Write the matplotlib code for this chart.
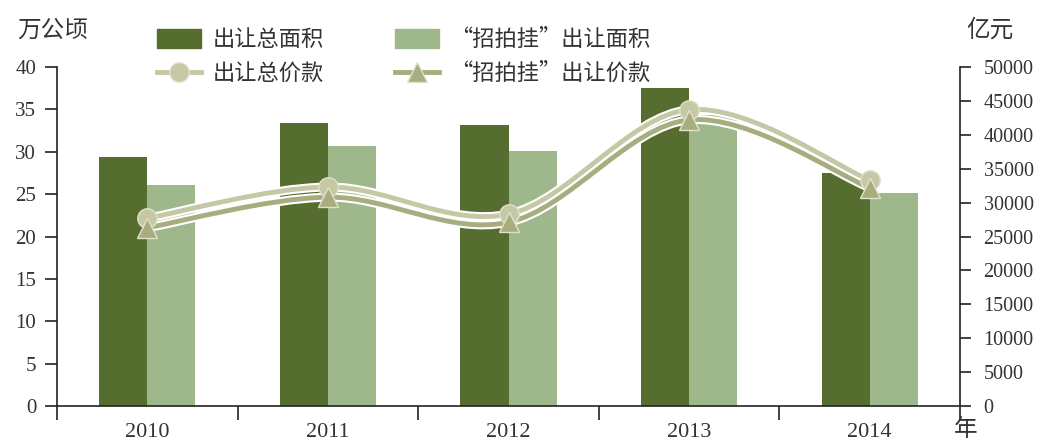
import matplotlib
matplotlib.use("Agg")
import matplotlib.pyplot as plt
import matplotlib.patheffects as pe
from matplotlib.path import Path
from matplotlib.patches import PathPatch, Patch
from matplotlib.lines import Line2D

plt.rcParams['font.family'] = ['Noto Sans CJK SC', 'DejaVu Sans']

# data
years = ['2010', '2011', '2012', '2013', '2014']
area_total = [29.4, 33.4, 33.2, 37.5, 27.5]          # 万公顷
area_zpg = [26.1, 30.7, 30.1, 34.3, 25.1]            # 万公顷
price_total = [27700, 32300, 28300, 43700, 33300]    # 亿元
price_zpg = [26300, 30800, 27100, 42200, 32200]      # 亿元

dark = '#566d30'
light = '#9fb88b'
c_total = '#c6c8a5'
c_zpg = '#a8ad7f'
txt = '#333333'
num_font = 'Liberation Serif'


def smooth_path(xs, ys):
    # Catmull-Rom style cubic bezier through the points (like a smoothed line)
    pts = list(zip(xs, ys))
    n = len(pts)
    verts = [pts[0]]
    codes = [Path.MOVETO]
    for i in range(n - 1):
        p0 = pts[i - 1] if i > 0 else pts[i]
        p1 = pts[i]
        p2 = pts[i + 1]
        p3 = pts[i + 2] if i + 2 < n else pts[i + 1]
        c1 = (p1[0] + (p2[0] - p0[0]) / 6, p1[1] + (p2[1] - p0[1]) / 6)
        c2 = (p2[0] - (p3[0] - p1[0]) / 6, p2[1] - (p3[1] - p1[1]) / 6)
        verts += [c1, c2, p2]
        codes += [Path.CURVE4] * 3
    return Path(verts, codes)


fig = plt.figure(figsize=(10.43, 4.43), dpi=100)
ax = fig.add_axes([57 / 1043, 1 - 406 / 443, (960 - 57) / 1043, (406 - 67) / 443])
ax2 = ax.twinx()

x = list(range(len(years)))
w = 0.266
ax.bar([i - w / 2 for i in x], area_total, w, color=dark, zorder=2)
ax.bar([i + w / 2 for i in x], area_zpg, w, color=light, zorder=2)

ax.set_xlim(-0.5, 4.5)
ax.set_ylim(0, 40)
ax2.set_ylim(0, 50000)

outline = [pe.Stroke(linewidth=6.5, foreground='white'), pe.Normal()]
for vals, col, mk in [(price_total, c_total, 'o'), (price_zpg, c_zpg, '^')]:
    patch = PathPatch(smooth_path(x, vals), facecolor='none', edgecolor=col,
                      linewidth=3.5, path_effects=outline, zorder=3)
    ax2.add_patch(patch)
    ax2.plot(x, vals, linestyle='none', marker=mk, markersize=14,
             color=col, markeredgecolor='#e0e1cc', markeredgewidth=1, zorder=4)

# axes styling
for a in (ax, ax2):
    a.spines['top'].set_visible(False)
    for s in a.spines.values():
        s.set_color('#222222')
        s.set_linewidth(1.2)
ax2.spines['left'].set_visible(False)
ax2.spines['bottom'].set_visible(False)
ax.spines['right'].set_visible(False)

ax.set_yticks(range(0, 41, 5))
ax2.set_yticks(range(0, 50001, 5000))
ax.tick_params(axis='y', direction='out', length=9, width=1.2, colors='#222222',
               labelcolor=txt, labelsize=15, pad=6)
ax2.tick_params(axis='y', direction='out', length=8, width=1.2, colors='#222222',
                labelcolor=txt, labelsize=14.5, pad=9)
for lab in ax.get_yticklabels():
    lab.set_family(num_font)
for lab in ax2.get_yticklabels():
    lab.set_family(num_font)

ax.set_xticks([i - 0.5 for i in range(len(years) + 1)])
ax.set_xticklabels([])
ax.tick_params(axis='x', which='major', direction='out', length=10, width=1.2,
               colors='#222222')
ax.set_xticks(x, minor=True)
ax.set_xticklabels(years, minor=True, fontsize=16, family=num_font, color=txt)
ax.tick_params(axis='x', which='minor', length=0, pad=12)

fig.text(17 / 1043, 1 - 30 / 443, '万公顷', fontsize=17, color=txt, va='center')
fig.text(966 / 1043, 1 - 30 / 443, '亿元', fontsize=17, color=txt, va='center')
fig.text(954 / 1043, 1 - 429 / 443, '年', fontsize=17, color=txt, va='center')

handles = [
    Patch(color=dark),
    Line2D([], [], color=c_total, linewidth=3.5, marker='o', markersize=14,
           markeredgecolor='#e0e1cc'),
    Patch(color=light),
    Line2D([], [], color=c_zpg, linewidth=3.5, marker='^', markersize=14,
           markeredgecolor='#e0e1cc'),
]
labels = ['出让总面积', '出让总价款', '“招拍挂”出让面积', '“招拍挂”出让价款']
fig.legend(handles, labels, ncol=2, frameon=False, loc='upper left',
           bbox_to_anchor=(137 / 1043, 1 - 8 / 443), fontsize=16,
           labelcolor=txt, handlelength=2.0, handleheight=0.9,
           columnspacing=3.2, labelspacing=0.5, handletextpad=0.5)

fig.savefig('out.png', dpi=100)
